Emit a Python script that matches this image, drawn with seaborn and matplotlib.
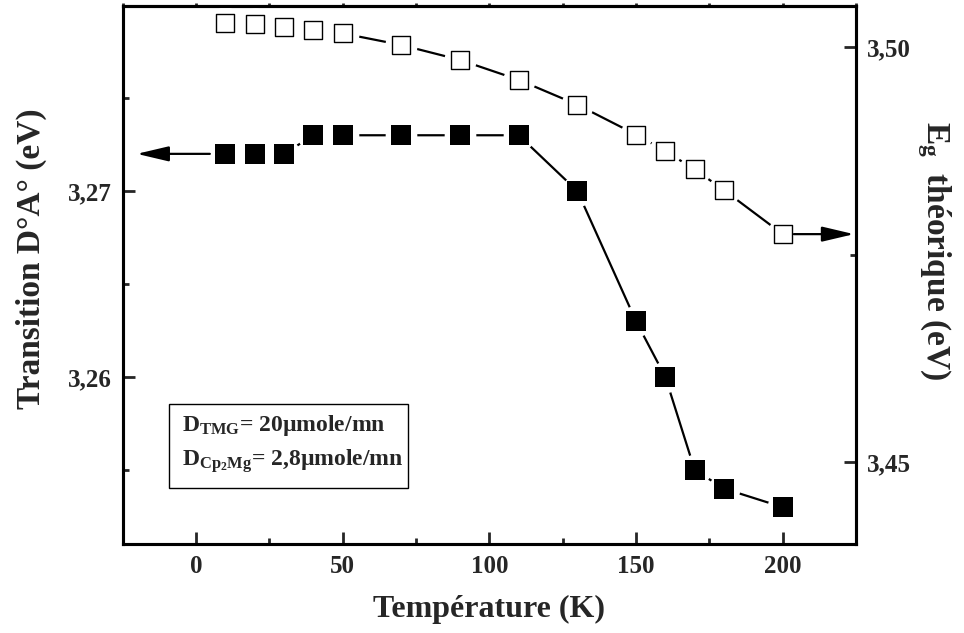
import numpy as np
import pandas as pd
import seaborn as sns
import matplotlib.pyplot as plt
from matplotlib.patches import Rectangle
from matplotlib.ticker import FuncFormatter, MultipleLocator

# data
temperature = [10, 20, 30, 40, 50, 70, 90, 110, 130, 150, 160, 170, 180, 200]
transition_da = [3.272, 3.272, 3.272, 3.273, 3.273, 3.273, 3.273, 3.273,
                 3.270, 3.263, 3.260, 3.255, 3.254, 3.253]
eg_theorique = [3.5029, 3.5028, 3.5025, 3.5021, 3.5017, 3.5003, 3.4985, 3.4961,
                3.4931, 3.4895, 3.4875, 3.4853, 3.4828, 3.4775]

df = pd.DataFrame({"T": temperature, "DA": transition_da, "Eg": eg_theorique})

sns.set_style("ticks")
plt.rcParams["font.family"] = ["Liberation Serif", "DejaVu Serif"]
plt.rcParams["font.weight"] = "bold"
plt.rcParams["mathtext.fontset"] = "custom"
plt.rcParams["mathtext.rm"] = "Liberation Serif:bold"
plt.rcParams["mathtext.it"] = "Liberation Serif:bold"
plt.rcParams["mathtext.bf"] = "Liberation Serif:bold"

fig = plt.figure(figsize=(9.64, 6.33), dpi=100)
ax = fig.add_axes([0.1273, 0.140, 0.7607, 0.8505])
ax2 = ax.twinx()

# filled squares - left axis (white round halo gives the gap at each marker)
sns.lineplot(data=df, x="T", y="DA", ax=ax, color="black", lw=1.6, zorder=1)
sns.scatterplot(data=df, x="T", y="DA", ax=ax, marker="o", s=520, color="white",
                linewidth=0, zorder=2)
sns.scatterplot(data=df, x="T", y="DA", ax=ax, marker="s", s=207, color="black",
                linewidth=0, zorder=3)

# open squares - right axis
sns.lineplot(data=df, x="T", y="Eg", ax=ax2, color="black", lw=1.6, zorder=1)
sns.scatterplot(data=df, x="T", y="Eg", ax=ax2, marker="o", s=540, color="white",
                linewidth=0, zorder=2)
sns.scatterplot(data=df, x="T", y="Eg", ax=ax2, marker="s", s=185, facecolor="white",
                edgecolor="black", linewidth=1.0, zorder=3)

ax.set_xlim(-25, 225)
ax.set_ylim(3.2510, 3.27995)
ax2.set_ylim(3.4401, 3.5050)

ax.xaxis.set_major_locator(MultipleLocator(50))
ax.xaxis.set_minor_locator(MultipleLocator(25))
ax.yaxis.set_major_locator(MultipleLocator(0.01))
ax.yaxis.set_minor_locator(MultipleLocator(0.005))
ax2.yaxis.set_major_locator(MultipleLocator(0.05))
ax2.yaxis.set_minor_locator(MultipleLocator(0.025))

comma = lambda nd: FuncFormatter(lambda v, p: f"{v:.{nd}f}".replace(".", ","))
ax.yaxis.set_major_formatter(comma(2))
ax2.yaxis.set_major_formatter(comma(2))
ax.xaxis.set_major_formatter(FuncFormatter(lambda v, p: f"{v:.0f}"))

for a in (ax, ax2):
    for s in a.spines.values():
        s.set_linewidth(2.2)
        s.set_color("black")
    a.tick_params(which="major", direction="in", length=8.5, width=2, labelsize=18, pad=8)
    a.tick_params(which="minor", direction="in", length=4.5, width=2)

# small marks on the top frame
top = ax.secondary_xaxis("top")
top.xaxis.set_major_locator(MultipleLocator(25))
top.tick_params(direction="out", length=2, width=2, labeltop=False)
top.spines["top"].set_linewidth(2.2)

ax.set_xlabel("Température (K)", fontsize=23, fontweight="bold", labelpad=12)
ax.set_ylabel("Transition D°A° (eV)", fontsize=24, fontweight="bold")
ax.yaxis.set_label_coords(-0.1035, 0.53)
ax2.set_ylabel(r"$\mathrm{E}_{\mathrm{g}}$  théorique (eV)", fontsize=24,
               fontweight="bold", rotation=270)
ax2.yaxis.set_label_coords(1.132, 0.545)

# arrows pointing at the matching axis
arrow = dict(arrowstyle="-|>,head_length=1.4,head_width=0.33", color="black",
             lw=1.6, mutation_scale=14, shrinkA=0, shrinkB=0)
ax.annotate("", xy=(-20.2, transition_da[0]), xytext=(temperature[0] - 5.3, transition_da[0]),
            arrowprops=arrow)
ax2.annotate("", xy=(224.3, eg_theorique[-1]), xytext=(temperature[-1] + 3.8, eg_theorique[-1]),
             arrowprops=arrow)

# flow-rate box
ax.add_patch(Rectangle((0.0631, 0.1046), 0.3259, 0.156, transform=ax.transAxes,
                       fill=False, edgecolor="black", lw=1.0, zorder=5))
ax.text(0.081, 0.211, r"$\mathrm{D}_{\mathrm{TMG}}$= 20µmole/mn", transform=ax.transAxes,
        fontsize=17, fontweight="bold", va="baseline")
ax.text(0.081, 0.147, r"$\mathrm{D}_{\mathrm{Cp_2Mg}}$= 2,8µmole/mn", transform=ax.transAxes,
        fontsize=17, fontweight="bold", va="baseline")

fig.savefig("out.png", dpi=100)
